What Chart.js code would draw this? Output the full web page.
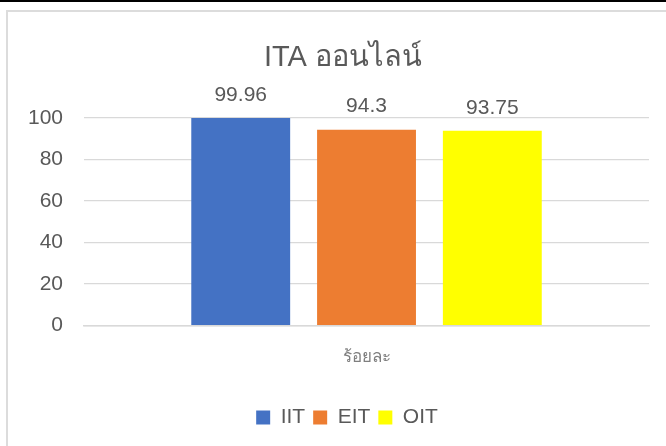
<!DOCTYPE html>
<html>
<head>
<meta charset="utf-8">
<script src="https://cdn.jsdelivr.net/npm/chart.js@4"></script>
<style>
  html, body { margin: 0; padding: 0; background: #fff; }
  body { width: 666px; height: 446px; position: relative; overflow: hidden; }
  #topbar { position: absolute; left: 0; top: 0; width: 666px; height: 2px; background: #000; }
  #frame { position: absolute; left: 6px; top: 10px; width: 700px; height: 500px; border: 2px solid #dcdcdc; box-sizing: border-box; }
  #wrap { position: absolute; left: 0; top: 0; width: 666px; height: 446px; }
</style>
</head>
<body>
<div id="topbar"></div>
<div id="frame"></div>
<div id="wrap"><canvas id="chart"></canvas></div>
<script>
// dados do gráfico
const categories = ['ร้อยละ'];
const seriesNames = ['IIT', 'EIT', 'OIT'];
const seriesValues = [99.96, 94.3, 93.75];
const seriesColors = ['#4472C4', '#ED7D31', '#FFFF00'];
const yTicks = [0, 20, 40, 60, 80, 100];

const FONT = "'Liberation Sans', 'Noto Sans', sans-serif";
const TEXT = '#595959';

// rótulos de valor acima das barras
const valueLabels = {
    id: 'valueLabels',
    afterDatasetsDraw(chart) {
        const ctx = chart.ctx;
        ctx.save();
        ctx.font = '21px ' + FONT;
        ctx.fillStyle = TEXT;
        ctx.textAlign = 'center';
        ctx.textBaseline = 'middle';
        chart.data.datasets.forEach((ds, i) => {
            chart.getDatasetMeta(i).data.forEach((bar, j) => {
                ctx.fillText(String(ds.data[j]), bar.x, bar.y - 23);
            });
        });
        ctx.restore();
    }
};

// título e legenda um pouco deslocados para a direita, como no original
const boxShift = {
    id: 'boxShift',
    afterLayout(chart) {
        chart.legend.left += 19;
        chart.legend.right += 19;
        chart.titleBlock.left += 15;
        chart.titleBlock.right += 15;
    }
};

const datasets = seriesNames.map((name, i) => ({
    label: name,
    data: [seriesValues[i]],
    backgroundColor: seriesColors[i],
    borderWidth: 0,
    categoryPercentage: 0.668,
    barPercentage: 0.786
}));

new Chart(document.getElementById('chart').getContext('2d'), {
    type: 'bar',
    data: { labels: categories, datasets },
    plugins: [valueLabels, boxShift],
    options: {
        responsive: true,
        maintainAspectRatio: false,
        animation: false,
        layout: { padding: { left: 7, right: 17, top: 0, bottom: 8 } },
        plugins: {
            title: {
                display: true,
                text: 'ITA ออนไลน์',
                color: TEXT,
                font: { family: FONT, size: 29, weight: 'normal' },
                padding: { top: 41, bottom: 42 }
            },
            legend: {
                position: 'bottom',
                labels: {
                    color: TEXT,
                    font: { family: FONT, size: 21 },
                    boxWidth: 14,
                    boxHeight: 14,
                    padding: 8
                }
            },
            tooltip: { enabled: false }
        },
        scales: {
            x: {
                grid: { display: false, drawTicks: false },
                border: { display: true, color: '#d9d9d9', width: 1.5 },
                ticks: { color: '#7f7f7f', font: { family: FONT, size: 17 }, padding: 22 },
                afterFit: axis => { axis.height += 9; }
            },
            y: {
                min: 0,
                max: 100,
                afterBuildTicks: axis => { axis.ticks = yTicks.map(v => ({ value: v })); },
                grid: { color: '#d9d9d9', lineWidth: 1.2, drawTicks: false },
                border: { display: false },
                ticks: { color: TEXT, font: { family: FONT, size: 21 }, padding: 21 }
            }
        }
    }
});
</script>
</body>
</html>
